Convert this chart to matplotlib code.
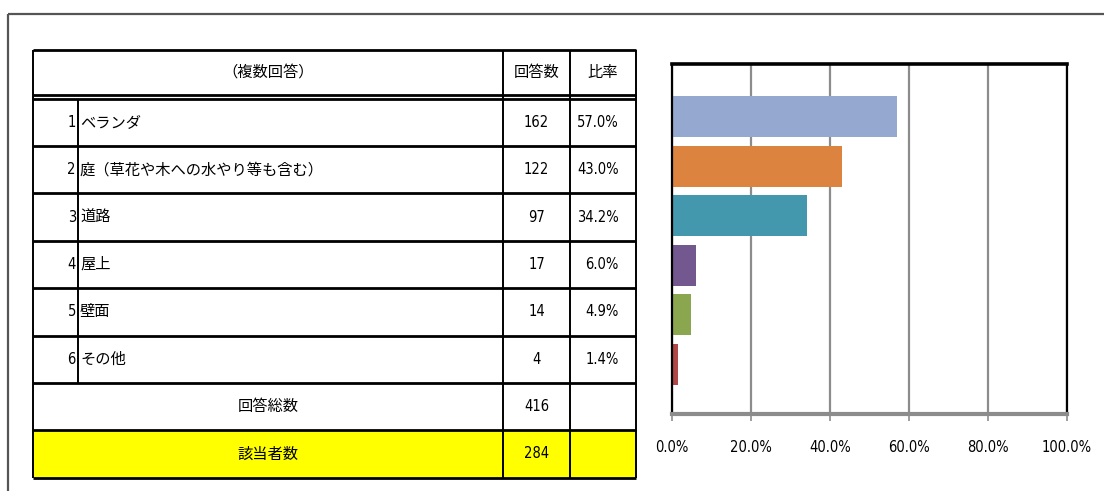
import matplotlib
matplotlib.use("Agg")
import matplotlib.pyplot as plt
from matplotlib.ticker import FuncFormatter

# ---------------- data ----------------
header_label = "（複数回答）"
header_count = "回答数"
header_ratio = "比率"
item_numbers = [1, 2, 3, 4, 5, 6]
categories = ["ベランダ", "庭（草花や木への水やり等も含む）", "道路", "屋上", "壁面", "その他"]
counts = [162, 122, 97, 17, 14, 4]
ratios = [57.0, 43.0, 34.2, 6.0, 4.9, 1.4]
total_label = "回答総数"
total_count = 416
resp_label = "該当者数"
resp_count = 284
bar_colors = ["#95A9D0", "#DC843F", "#4398AE", "#72588F", "#8AA64E", "#B04847"]
x_ticks = [0, 20, 40, 60, 80, 100]

plt.rcParams["font.family"] = ["DejaVu Sans", "Noto Sans CJK JP"]
JP = ["Noto Sans CJK JP", "DejaVu Sans"]
NUM = dict(family=["DejaVu Sans"], fontstretch="condensed")

W, H = 1104, 491
fig = plt.figure(figsize=(W / 100, H / 100), dpi=100)
fig.patch.set_facecolor("white")

bg = fig.add_axes([0, 0, 1, 1])
bg.set_xlim(0, W)
bg.set_ylim(H, 0)
bg.axis("off")

# outer frame
bg.plot([8, W], [14, 14], color="#555555", lw=1.6, solid_capstyle="butt")
bg.plot([8, 8], [14, H], color="#555555", lw=1.6, solid_capstyle="butt")

# table geometry
x_left, x_num, x_cnt, x_rat, x_right = 33, 78, 503, 570, 636
y_top = 50
y_head = 95
y_head2 = 98.5
row_h = 47.4
rows_y = [y_head2 + row_h * i for i in range(9)]

bg.add_patch(plt.Rectangle((x_left, rows_y[7]), x_right - x_left, rows_y[8] - rows_y[7],
                           facecolor="#FFFF00", edgecolor="none", zorder=1))

hl = dict(color="black", lw=2.0, solid_capstyle="butt", zorder=3)
vl = dict(color="black", lw=1.4, solid_capstyle="butt", zorder=3)
bg.plot([x_left, x_right], [y_top, y_top], **hl)
bg.plot([x_left, x_right], [y_head, y_head], **hl)
for y in rows_y:
    bg.plot([x_left, x_right], [y, y], **hl)
for x in (x_left, x_cnt, x_rat, x_right):
    bg.plot([x, x], [y_top, rows_y[8]], **vl)
bg.plot([x_num, x_num], [rows_y[0], rows_y[6]], **vl)

fs_j = 11
fs_n = 10.5
yc = (y_top + y_head) / 2
bg.text((x_left + x_cnt) / 2, yc, header_label, ha="center", va="center", fontsize=fs_j, family=JP)
bg.text((x_cnt + x_rat) / 2, yc, header_count, ha="center", va="center", fontsize=fs_j, family=JP)
bg.text((x_rat + x_right) / 2, yc, header_ratio, ha="center", va="center", fontsize=fs_j, family=JP)

for i, (n, cat, c, r) in enumerate(zip(item_numbers, categories, counts, ratios)):
    yc = (rows_y[i] + rows_y[i + 1]) / 2
    bg.text(x_num - 2, yc, str(n), ha="right", va="center", fontsize=fs_n, **NUM)
    bg.text(x_num + 2, yc, cat, ha="left", va="center", fontsize=fs_j, family=JP)
    bg.text((x_cnt + x_rat) / 2, yc, str(c), ha="center", va="center", fontsize=fs_n, **NUM)
    bg.text(x_right - 17, yc, f"{r:.1f}%", ha="right", va="center", fontsize=fs_n, **NUM)

yc = (rows_y[6] + rows_y[7]) / 2
bg.text((x_left + x_cnt) / 2, yc, total_label, ha="center", va="center", fontsize=fs_j, family=JP)
bg.text((x_cnt + x_rat) / 2, yc, str(total_count), ha="center", va="center", fontsize=fs_n, **NUM)
yc = (rows_y[7] + rows_y[8]) / 2
bg.text((x_left + x_cnt) / 2, yc, resp_label, ha="center", va="center", fontsize=fs_j, family=JP, zorder=4)
bg.text((x_cnt + x_rat) / 2, yc, str(resp_count), ha="center", va="center", fontsize=fs_n, zorder=4, **NUM)

# ---------------- bar chart ----------------
ax_l, ax_r, ax_t, ax_b = 672, 1067, 64, 414
ax = fig.add_axes([ax_l / W, 1 - ax_b / H, (ax_r - ax_l) / W, (ax_b - ax_t) / H])
ypos = list(range(len(ratios)))
ax.barh(ypos, ratios, height=0.83, color=bar_colors, zorder=3)
ax.set_xlim(0, 100)
ax.set_ylim(6.0, -1.06)
ax.set_xticks(x_ticks)
ax.xaxis.set_major_formatter(FuncFormatter(lambda v, p: f"{v:.1f}%"))
ax.set_yticks([])
ax.grid(axis="x", color="#8C8C8C", lw=1.6, zorder=1)
ax.tick_params(axis="x", length=5, width=1.2, color="#8C8C8C", pad=14)
for lab in ax.get_xticklabels():
    lab.set_fontsize(10.5)
    lab.set_family("DejaVu Sans")
    lab.set_fontstretch("condensed")
ax.spines["top"].set_linewidth(2.6)
ax.spines["top"].set_color("black")
ax.spines["left"].set_linewidth(1.6)
ax.spines["left"].set_color("black")
ax.spines["right"].set_linewidth(1.6)
ax.spines["right"].set_color("black")
ax.spines["bottom"].set_linewidth(3.0)
ax.spines["bottom"].set_color("#8C8C8C")
for s in ax.spines.values():
    s.set_zorder(4)

fig.savefig("out.png", dpi=100)
